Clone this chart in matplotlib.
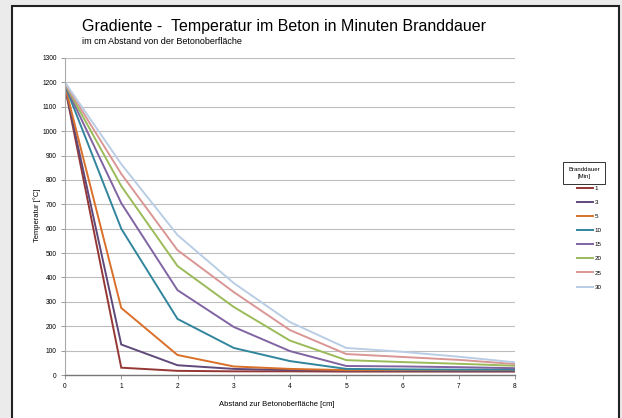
import numpy as np
import matplotlib
matplotlib.use("Agg")
import matplotlib.pyplot as plt
from matplotlib.patches import Rectangle

plt.rcParams["font.family"] = ["Liberation Sans", "DejaVu Sans"]

# -------------------------------------------------------
# DATA
# -------------------------------------------------------
abstand = [0, 1, 2, 3, 4, 5, 6, 7, 8]
dauer = ["1", "3", "5", "10", "15", "20", "25", "30"]

t_1  = [1180,  30,  17,  15,  15,  14,  14,  14,  14]
t_3  = [1182, 125,  40,  25,  20,  18,  17,  16,  16]
t_5  = [1185, 275,  82,  35,  25,  20,  20,  20,  20]
t_10 = [1188, 600, 230, 111,  57,  25,  23,  22,  22]
t_15 = [1190, 705, 348, 197,  98,  37,  35,  32,  28]
t_20 = [1193, 775, 447, 279, 141,  61,  53,  46,  38]
t_25 = [1196, 825, 512, 340, 184,  86,  74,  62,  45]
t_30 = [1200, 865, 574, 377, 217, 111,  95,  75,  52]
serien = [t_1, t_3, t_5, t_10, t_15, t_20, t_25, t_30]

farben = ["#953735", "#5F497A", "#D9702A", "#31859C",
          "#8064A2", "#9BBB59", "#D99694", "#B9CDE5"]

# -------------------------------------------------------
# FIGURE
# -------------------------------------------------------
W, H = 622, 418
fig = plt.figure(figsize=(W / 100, H / 100), dpi=100, facecolor="#ebebeb")

# white chart area with black frame (open at the bottom)
fig.patches.append(Rectangle((12 / W, -0.05), (619 - 12) / W, 1.05 - 6 / H,
                             transform=fig.transFigure, facecolor="white",
                             edgecolor="#222222", linewidth=1.5, zorder=-5))

ax = fig.add_axes([65 / W, (H - 375) / H, 450 / W, 317 / H])
ax.set_zorder(2)
ax.set_facecolor("white")

for werte, farbe, lab in zip(serien, farben, dauer):
    ax.plot(abstand, werte, color=farbe, lw=1.4, label=lab, solid_joinstyle="miter")

ax.set_xlim(0, 8)
ax.set_ylim(0, 1300)
ax.set_xticks(range(0, 9))
ax.set_yticks(range(0, 1301, 100))
ax.yaxis.grid(True, color="#bdbdbd", lw=0.8)
ax.set_axisbelow(True)
ax.tick_params(axis="both", labelsize=4.8, length=3, width=0.6, color="#888888", pad=3)

for s in ["top", "right"]:
    ax.spines[s].set_visible(False)
ax.spines["left"].set_color("#aaaaaa")
ax.spines["bottom"].set_color("#777777")
ax.spines["left"].set_linewidth(0.8)
ax.spines["bottom"].set_linewidth(1.0)

# texts
fig.text(82 / W, 1 - 27 / H, "Gradiente -  Temperatur im Beton in Minuten Branddauer",
         fontsize=11.5, va="center", ha="left")
fig.text(82 / W, 1 - 41 / H, "im cm Abstand von der Betonoberfläche",
         fontsize=6.5, va="center", ha="left")
fig.text(277 / W, 1 - 404 / H, "Abstand zur Betonoberfläche [cm]",
         fontsize=5.5, va="center", ha="center")
fig.text(37 / W, 1 - 215 / H, "Temperatur [°C]", fontsize=5.5,
         va="center", ha="center", rotation=90)

# legend title box
fig.text(584 / W, 1 - 173 / H, "Branddauer\n[Min]", fontsize=4.3, ha="center", va="center",
         linespacing=1.3,
         bbox=dict(boxstyle="square,pad=0.85", facecolor="white",
                   edgecolor="#333333", linewidth=0.7))

leg = fig.legend(loc="upper left", bbox_to_anchor=(574 / W, 1 - 183 / H),
                 frameon=False, fontsize=4.5, handlelength=2.6, handletextpad=0.3,
                 labelspacing=1.4, borderaxespad=0)

fig.savefig("out.png", dpi=100, facecolor=fig.get_facecolor())
